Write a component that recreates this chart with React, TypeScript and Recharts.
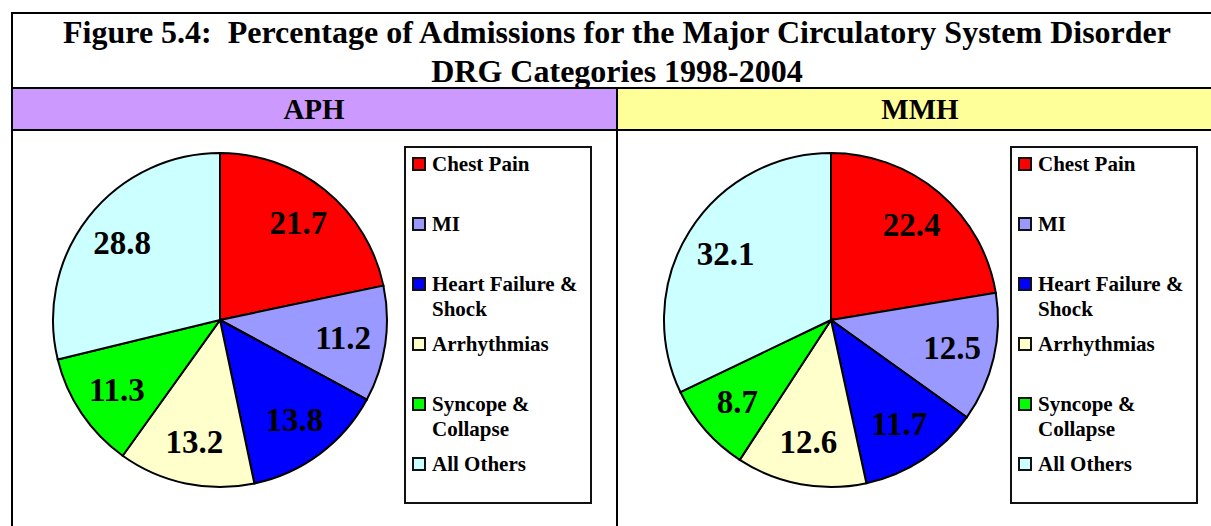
import React from 'react';
import { PieChart, Pie, Cell, Legend } from 'recharts';

const categories = ['Chest Pain', 'MI', 'Heart Failure & Shock', 'Arrhythmias', 'Syncope & Collapse', 'All Others'];
const sliceColors = ['#FF0000', '#9999FF', '#0000FF', '#FFFFCC', '#00FF00', '#CCFFFF'];
const aphValues = [21.7, 11.2, 13.8, 13.2, 11.3, 28.8];
const mmhValues = [22.4, 12.5, 11.7, 12.6, 8.7, 32.1];
const titleLines = ['Figure 5.4:  Percentage of Admissions for the Major Circulatory System Disorder', 'DRG Categories 1998-2004'];
const panelNames = ['APH', 'MMH'];
const headerColors = ['#CC99FF', '#FFFF99'];

const FONT = '"Liberation Serif", "Times New Roman", Times, serif';
const RAD = Math.PI / 180;

const renderLabel = (props: any) => {
  const { cx, cy, midAngle, outerRadius, value } = props;
  const r = outerRadius * 0.745;
  const x = cx + r * Math.cos(-midAngle * RAD);
  const y = cy + r * Math.sin(-midAngle * RAD);
  return (
    <text x={x} y={y} textAnchor="middle" dominantBaseline="central" fill="#000"
      style={{ fontFamily: FONT, fontWeight: 700, fontSize: 33 }}>
      {value.toFixed(1)}
    </text>
  );
};

const LegendBox = () => (
  <div style={{ width: 188, height: 358, boxSizing: 'border-box', border: '2px solid #111', background: '#fff', paddingTop: 4, paddingLeft: 6, fontFamily: FONT, fontWeight: 700, fontSize: 21, lineHeight: '25px', color: '#000' }}>
    {categories.map((c, i) => (
      <div key={c} style={{ height: 60, display: 'flex', alignItems: 'flex-start' }}>
        <div style={{ width: 14, height: 14, boxSizing: 'border-box', border: '2px solid #111', background: sliceColors[i], marginTop: 5, flex: '0 0 14px' }} />
        <div style={{ marginLeft: 6, width: 156 }}>{c}</div>
      </div>
    ))}
  </div>
);

const Panel = ({ values, cx }: { values: number[]; cx: number }) => {
  const data = categories.map((c, i) => ({ name: c, value: values[i] }));
  return (
    <PieChart width={604} height={396} margin={{ top: 0, right: 0, bottom: 0, left: 0 }}>
      <Pie data={data} dataKey="value" nameKey="name" cx={cx} cy={189} outerRadius={167}
        startAngle={90} endAngle={-270} stroke="#000" strokeWidth={2}
        label={renderLabel} labelLine={false} isAnimationActive={false}>
        {data.map((d, i) => (
          <Cell key={d.name} fill={sliceColors[i]} stroke="#000" strokeWidth={2} />
        ))}
      </Pie>
      <Legend layout="vertical" align="right" verticalAlign="top" content={() => <LegendBox />}
        wrapperStyle={{ position: 'absolute', left: 391, top: 15, width: 188, height: 358 }} />
    </PieChart>
  );
};

export default function App() {
  const line = '#000';
  return (
    <div style={{ position: 'absolute', left: 0, top: 0, width: 1211, height: 526, overflow: 'hidden', background: '#fff', fontFamily: FONT }}>
      {/* title */}
      <div style={{ position: 'absolute', left: 11, top: 13, width: 1212, textAlign: 'center', fontWeight: 700, fontSize: 32, lineHeight: '39px', color: '#000' }}>
        {titleLines.map((t) => (<div key={t} style={{ whiteSpace: 'pre' }}>{t}</div>))}
      </div>
      {/* headers */}
      {panelNames.map((n, i) => (
        <div key={n} style={{ position: 'absolute', left: i === 0 ? 11 : 617, top: 88, width: 606, height: 42, background: headerColors[i], display: 'flex', alignItems: 'center', justifyContent: 'center', fontWeight: 700, fontSize: 29, color: '#000' }}>{n}</div>
      ))}
      {/* panels */}
      <div style={{ position: 'absolute', left: 13, top: 131 }}>
        <Panel values={aphValues} cx={207} />
      </div>
      <div style={{ position: 'absolute', left: 619, top: 131 }}>
        <Panel values={mmhValues} cx={212} />
      </div>
      {/* grid lines */}
      <div style={{ position: 'absolute', left: 11, top: 12, width: 1220, height: 2, background: line }} />
      <div style={{ position: 'absolute', left: 11, top: 87, width: 1220, height: 2, background: line }} />
      <div style={{ position: 'absolute', left: 11, top: 129, width: 1220, height: 2, background: line }} />
      <div style={{ position: 'absolute', left: 11, top: 12, width: 2, height: 520, background: line }} />
      <div style={{ position: 'absolute', left: 616, top: 87, width: 2, height: 445, background: line }} />
    </div>
  );
}
